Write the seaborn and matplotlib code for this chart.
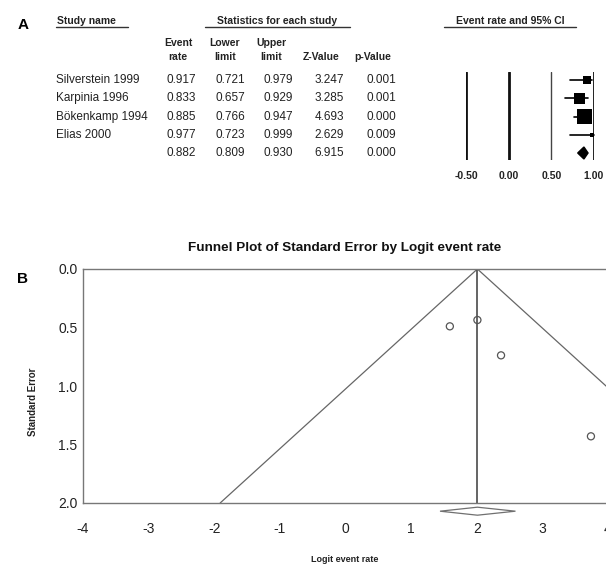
import matplotlib
matplotlib.use("Agg")
import matplotlib.pyplot as plt
import seaborn as sns
import pandas as pd
import numpy as np

# ---------------- data ----------------
studies = ["Silverstein 1999", "Karpinia 1996", "Bökenkamp 1994", "Elias 2000"]
event_rate = [0.917, 0.833, 0.885, 0.977]
lower_limit = [0.721, 0.657, 0.766, 0.723]
upper_limit = [0.979, 0.929, 0.947, 0.999]
z_value = [3.247, 3.285, 4.693, 2.629]
p_value = [0.001, 0.001, 0.000, 0.009]
summary_stats = [0.882, 0.809, 0.930, 6.915, 0.000]  # rate, lower, upper, Z, p
study_weight = [0.14, 0.30, 0.52, 0.04]
forest_ticks = [-0.50, 0.00, 0.50, 1.00]

logit_rate = [2.37, 1.59, 2.01, 3.74]
std_error = [0.738, 0.49, 0.436, 1.43]
summary_logit = 2.01
summary_logit_ci = [1.44, 2.59]
funnel_limit_at_se2 = [-1.91, 5.93]
funnel_xticks = [-4, -3, -2, -1, 0, 1, 2, 3, 4]
funnel_yticks = [0.0, 0.5, 1.0, 1.5, 2.0]

# ---------------- style ----------------
sns.set_theme(style="white")
plt.rcParams["font.family"] = ["Liberation Sans", "DejaVu Sans"]

W, H = 606, 565
fig = plt.figure(figsize=(W / 100, H / 100), dpi=100)


def fx(x):
    return x / W


def fy(y):
    return 1 - y / H


def txt(x, y, s, ha="left", size=8.5, weight="normal", color="#222222"):
    fig.text(fx(x), fy(y), s, ha=ha, va="center", fontsize=size,
             fontweight=weight, color=color)


def hline(x0, x1, y, color="#333333", lw=1.0):
    fig.add_artist(plt.Line2D([fx(x0), fx(x1)], [fy(y), fy(y)],
                              color=color, lw=lw, transform=fig.transFigure))


# ---------------- panel A: table ----------------
txt(18, 25, "A", size=11, weight="bold", color="black")
txt(57, 21, "Study name", size=7.5, weight="bold")
hline(56, 128, 27)
txt(277, 21, "Statistics for each study", ha="center", size=7.5, weight="bold")
hline(205, 350, 27)
txt(510, 21, "Event rate and 95% CI", ha="center", size=7.5, weight="bold")
hline(444, 576, 27)

col_centers = [178, 225, 271, 321, 373]
col_top = ["Event", "Lower", "Upper", "", ""]
col_bot = ["rate", "limit", "limit", "Z-Value", "p-Value"]
for cx, t, b in zip(col_centers, col_top, col_bot):
    if t:
        txt(cx, 43, t, ha="center", size=7.5, weight="bold")
    txt(cx, 57, b, ha="center", size=7.5, weight="bold")

row_y = [80, 98, 117, 135, 153]
col_right = [196, 245, 293, 344, 396]
for i, name in enumerate(studies):
    txt(56, row_y[i], name, size=8.5)
    vals = [event_rate[i], lower_limit[i], upper_limit[i], z_value[i], p_value[i]]
    for v, xr in zip(vals, col_right):
        txt(xr, row_y[i], f"{v:.3f}", ha="right", size=8.5)
for v, xr in zip(summary_stats, col_right):
    txt(xr, row_y[4], f"{v:.3f}", ha="right", size=8.5)

# ---------------- panel A: forest plot ----------------
ax_f = fig.add_axes([fx(466), fy(160), (594 - 466) / W, 88 / H])
row_step = 18.25
ax_f.set_xlim(-0.5, 1.0)
ax_f.set_ylim(4 + 7 / row_step, -8 / row_step)
for t, lw, c in zip(forest_ticks, [2.0, 2.0, 1.0, 1.4], ["#111111", "#111111", "#444444", "#222222"]):
    ax_f.axvline(t, color=c, lw=lw, zorder=1)

fdf = pd.DataFrame({"rate": event_rate, "row": range(len(studies)),
                    "w": study_weight, "lo": lower_limit, "hi": upper_limit})
for i in range(len(studies)):
    ax_f.plot([lower_limit[i], upper_limit[i]], [i, i], color="black", lw=1.2,
              zorder=2, clip_on=False)
sizes_px = np.sqrt(np.array(study_weight) / max(study_weight)) * 15
sizes_px = np.maximum(sizes_px, 4)
sns.scatterplot(data=fdf, x="rate", y="row", marker="s", color="black",
                s=(sizes_px * 72 / 100) ** 2, linewidth=0, ax=ax_f,
                legend=False, zorder=3, clip_on=False)
d_half = 6 / row_step
ax_f.fill([summary_stats[1], summary_stats[0], summary_stats[2], summary_stats[0]],
          [4, 4 - d_half, 4, 4 + d_half], color="black", zorder=3, clip_on=False)
ax_f.set_xticks(forest_ticks)
ax_f.set_xticklabels([f"{t:.2f}" for t in forest_ticks], fontsize=7.5,
                     fontweight="bold", color="#222222")
ax_f.tick_params(axis="x", length=0, pad=8)
ax_f.set_yticks([])
ax_f.set_xlabel("")
ax_f.set_ylabel("")
for sp in ax_f.spines.values():
    sp.set_visible(False)
ax_f.patch.set_alpha(0)

# ---------------- panel B: funnel plot ----------------
txt(17, 279, "B", size=11, weight="bold", color="black")
ax = fig.add_axes([fx(83), fy(503), (608 - 83) / W, (503 - 269) / H])
ax.set_xlim(-4, 4)
ax.set_ylim(2.0, 0.0)

funnel_df = pd.DataFrame({"x": [funnel_limit_at_se2[0], summary_logit, funnel_limit_at_se2[1]],
                          "y": [2.0, 0.0, 2.0]})
ax.plot(funnel_df["x"], funnel_df["y"], color="#666666", lw=0.9, zorder=1)
ax.plot([summary_logit, summary_logit], [0.0, 2.0], color="#3a3a3a", lw=1.1, zorder=1)

pdf = pd.DataFrame({"logit": logit_rate, "se": std_error})
sns.scatterplot(data=pdf, x="logit", y="se", marker="o", s=26,
                facecolor="none", edgecolor="#555555", linewidth=0.9,
                ax=ax, zorder=3)

dy = 4 / 117
ax.fill([summary_logit_ci[0], summary_logit, summary_logit_ci[1], summary_logit],
        [2.07, 2.07 - dy, 2.07, 2.07 + dy], facecolor="white", edgecolor="#707070",
        lw=0.9, clip_on=False, zorder=4)

ax.set_xticks(funnel_xticks)
ax.set_xticklabels([str(t) for t in funnel_xticks], fontsize=10, color="#222222")
ax.set_yticks(funnel_yticks)
ax.set_yticklabels([f"{t:.1f}" for t in funnel_yticks], fontsize=10, color="#222222")
ax.tick_params(axis="x", direction="inout", length=3, width=0.8, color="#555555", pad=12)
ax.tick_params(axis="y", direction="out", length=2, width=0.8, color="#555555", pad=2)
ax.set_xlabel("")
ax.set_ylabel("")
for sp in ax.spines.values():
    sp.set_color("#777777")
    sp.set_linewidth(1.0)

fig.text(fx(345), fy(248), "Funnel Plot of Standard Error by Logit event rate",
         ha="center", va="center", fontsize=9.7, fontweight="bold", color="#111111")
fig.text(fx(33), fy(402), "Standard Error", ha="center", va="center", rotation=90,
         fontsize=7, fontweight="bold", color="#222222")
fig.text(fx(345), fy(560), "Logit event rate", ha="center", va="center",
         fontsize=6.5, fontweight="bold", color="#222222")

fig.savefig("out.png", dpi=100)
